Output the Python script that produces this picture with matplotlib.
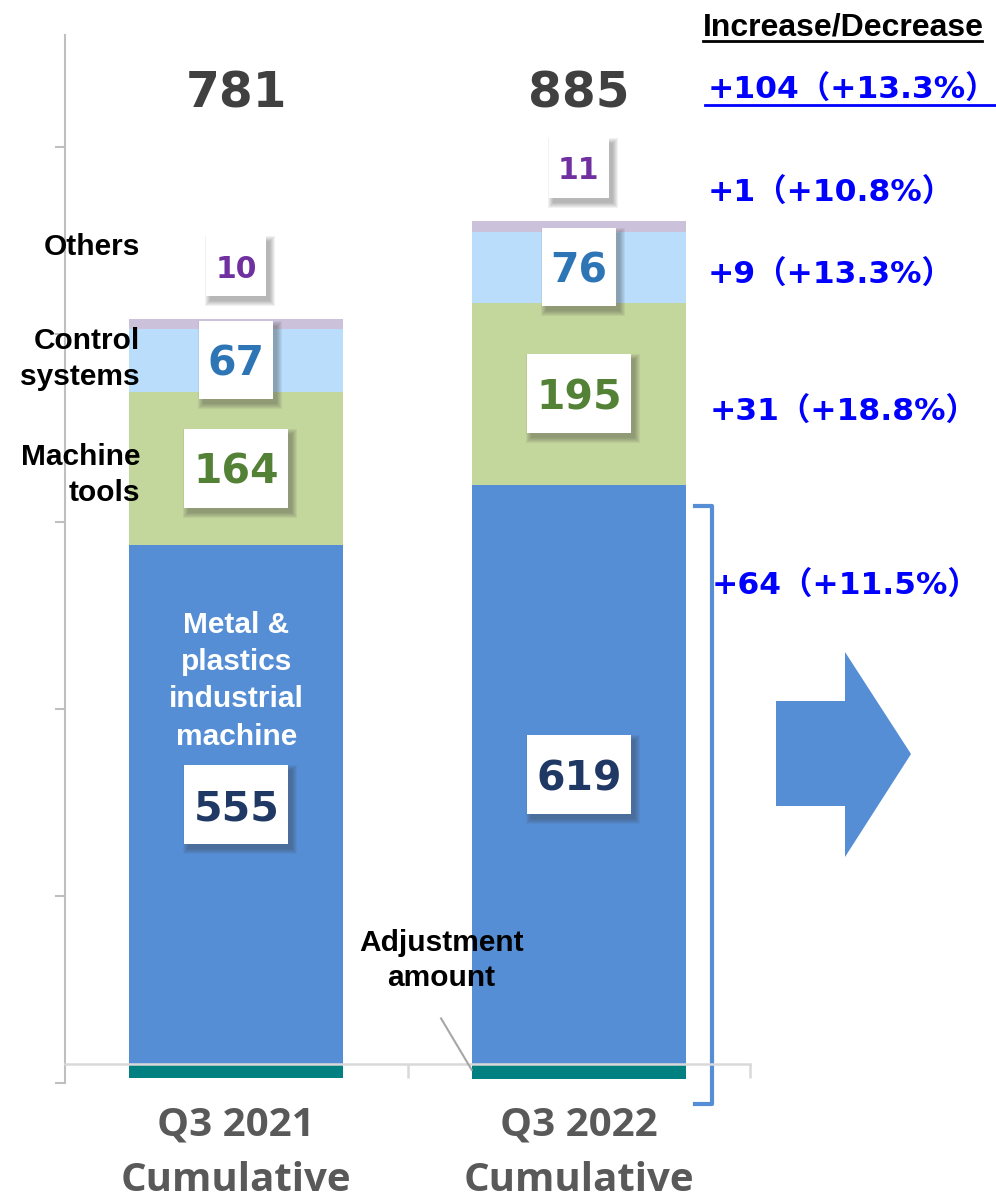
import numpy as np
import matplotlib.pyplot as plt
import matplotlib.transforms as mtransforms
from matplotlib.patches import Polygon, Rectangle
from matplotlib.lines import Line2D

# Orders by segment, cumulative Q3 (100 million yen)
categories = ['Q3 2021\nCumulative', 'Q3 2022\nCumulative']
metal = [555, 619]
machine = [164, 195]
control = [67, 76]
others = [10, 11]
adjustment = [-15, -16]
totals = [781, 885]
changes = ['+104（+13.3%）', '+1（+10.8%）', '+9（+13.3%）', '+31（+18.8%）', '+64（+11.5%）']

c_metal = '#558ED5'
c_machine = '#C3D69B'
c_control = '#B9DDFB'
c_others = '#CCC1DA'
c_adjust = '#008080'

W, H = 996, 1203
fig = plt.figure(figsize=(W / 100, H / 100), dpi=100)


def fx(px):
    return px / W


def fy(py):
    return 1 - py / H


ax = fig.add_axes([fx(65), fy(1083), fx(750) - fx(65), fy(35) - fy(1083)])
x = np.arange(len(categories))
bw = 0.625

metal = np.array(metal)
machine = np.array(machine)
control = np.array(control)
others = np.array(others)

ax.bar(x, adjustment, bw, color=c_adjust, zorder=2)
ax.bar(x, metal, bw, color=c_metal, zorder=2)
ax.bar(x, machine, bw, bottom=metal, color=c_machine, zorder=2)
ax.bar(x, control, bw, bottom=metal + machine, color=c_control, zorder=2)
ax.bar(x, others, bw, bottom=metal + machine + control, color=c_others, zorder=2)

ax.set_xlim(-0.5, 1.5)
ax.set_ylim(-20, 1100)

for s in ['top', 'right']:
    ax.spines[s].set_visible(False)
ax.spines['left'].set_color('#BFBFBF')
ax.spines['left'].set_linewidth(1.5)
ax.spines['bottom'].set_position(('data', 0))
ax.spines['bottom'].set_color('#D9D9D9')
ax.spines['bottom'].set_linewidth(1.8)
ax.spines['bottom'].set_zorder(3)

ax.set_yticks(np.arange(-20, 1100, 200))
ax.set_yticklabels([])
ax.tick_params(axis='y', length=7, width=1.5, color='#BFBFBF')

ax.set_xticks(x)
ax.set_xticklabels(categories, fontsize=29, fontweight='bold', color='#595959',
                   family='Open Sans', linespacing=1.55)
ax.tick_params(axis='x', which='major', length=0, pad=30)
ax.set_xticks([0.5, 1.5], minor=True)
ax.tick_params(axis='x', which='minor', length=10, width=1.8, color='#D9D9D9')


def boxed(xv, yv, text, color, size, w, h):
    # white label box with a soft drop shadow, sized in pixels around a data point
    at = mtransforms.ScaledTranslation(xv, yv, ax.transData)
    for k in range(6):
        g = 2 * k
        ax.add_patch(Rectangle((-w / 2 + 4 - g / 2, -h / 2 - 5 - g / 2), w + g, h + g,
                               transform=at, fc='#3a3a3a', ec='none', alpha=0.07,
                               zorder=4, clip_on=False))
    ax.add_patch(Rectangle((-w / 2, -h / 2), w, h, transform=at, fc='white',
                           ec='none', zorder=5, clip_on=False))
    ax.text(xv, yv, text, ha='center', va='center_baseline', fontsize=size,
            fontweight='bold', color=color, family='DejaVu Sans', zorder=6)


for i in range(2):
    boxed(x[i], metal[i] / 2, str(metal[i]), '#1F3864', 29.5, 104, 79)
    boxed(x[i], metal[i] + machine[i] / 2, str(machine[i]), '#538135', 29.5, 104, 79)
    boxed(x[i], metal[i] + machine[i] + control[i] / 2, str(control[i]), '#2E75B6',
          29.5, 74, 78)
    top = metal[i] + machine[i] + control[i] + others[i]
    boxed(x[i], top + 57, str(others[i]), '#7030A0', 21.5, 60, 60)
    ax.text(x[i], 1038, str(totals[i]), ha='center', va='center', fontsize=35,
            fontweight='bold', color='#404040', family='DejaVu Sans')

ax.text(0, 410, 'Metal &\nplastics\nindustrial\nmachine', ha='center', va='center',
        fontsize=21.5, fontweight='bold', color='white', family='Liberation Sans',
        linespacing=1.42, zorder=4)

# segment names left of the first bar
lab = dict(ha='right', va='center', fontsize=21.5, fontweight='bold', color='black',
           family='Liberation Sans', linespacing=1.4)
fig.text(fx(140), fy(247), 'Others', **lab)
fig.text(fx(140), fy(359), 'Control\nsystems', **lab)
fig.text(fx(140), fy(475), 'Machine\ntools', **lab)

ax.text(0.598, 111, 'Adjustment\namount', ha='center', va='center', fontsize=21.5,
        fontweight='bold', color='black', family='Liberation Sans', linespacing=1.32,
        zorder=6)
ax.plot([0.598, 1 - bw / 2], [49, -6], color='#A6A6A6', lw=1.5, zorder=6, clip_on=False)

# bracket around the metal segment
ax.plot([1.339, 1.389, 1.389, 1.339], [597, 597, -42, -42], color=c_metal, lw=3,
        clip_on=False, solid_joinstyle='round')

# change column
fig.text(fx(703), fy(27), 'Increase/Decrease', ha='left', va='center', fontsize=23,
         fontweight='bold', color='black', family='Liberation Sans')
fig.add_artist(Line2D([fx(703), fx(982)], [fy(41), fy(41)], color='black', lw=2))

blue = dict(ha='left', va='center', fontsize=22.6, fontweight='bold', color='#0000FF',
            family=['DejaVu Sans', 'Noto Sans CJK JP'])
ys = [90, 193, 275, 412, 586]
xs = [708, 708, 708, 710, 712]
for t, xp, yp in zip(changes, xs, ys):
    fig.text(fx(xp), fy(yp), t, **blue)
fig.add_artist(Line2D([fx(705), fx(996)], [fy(105), fy(105)], color='#0000FF', lw=2))

# block arrow
arrow = Polygon([(fx(776), fy(701)), (fx(845), fy(701)), (fx(845), fy(652)),
                 (fx(911), fy(754)), (fx(845), fy(857)), (fx(845), fy(806)),
                 (fx(776), fy(806))], closed=True, fc=c_metal, ec='none',
                transform=fig.transFigure)
fig.add_artist(arrow)

fig.savefig('out.png', dpi=100)
